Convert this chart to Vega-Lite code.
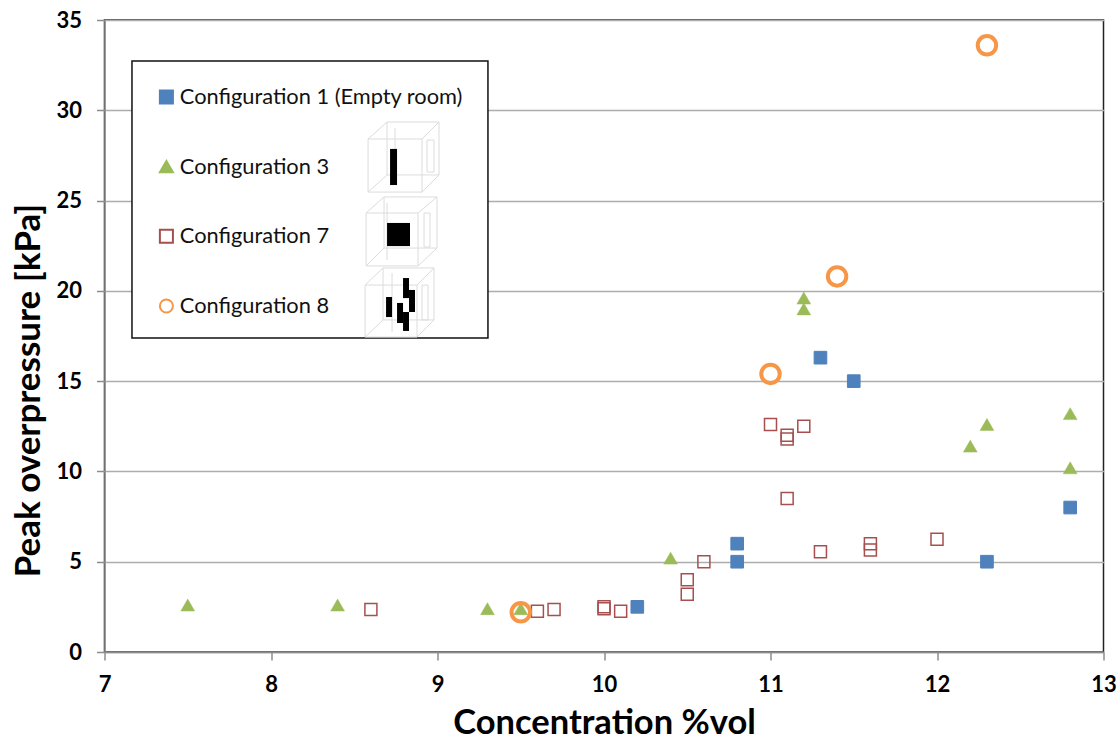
{
"$schema":"https://vega.github.io/schema/vega-lite/v6.json",
"width":999,"height":632,
"autosize":{"type":"none"},
"padding":{"left":104.5,"top":20,"right":16.5,"bottom":90},
"background":"white",
"config":{"view":{"stroke":"#222","strokeWidth":1.5},"font":"Lato"},
"datasets":{
"box":[{"c":7.165,"c2":9.303,"p":32.73,"p2":17.39}],
"rooms":[
{"c":8.583,"c2":8.907,"p":28.41,"p2":25.47},{"c":8.697,"c2":9.009,"p":29.35,"p2":26.42},{"c":8.937,"c2":8.979,"p":28.35,"p2":26.58},
{"c":8.571,"c2":8.883,"p":24.31,"p2":21.38},{"c":8.679,"c2":8.997,"p":25.20,"p2":22.37},{"c":8.919,"c2":8.955,"p":24.31,"p2":22.43},
{"c":8.565,"c2":8.877,"p":20.32,"p2":17.44},{"c":8.673,"c2":8.979,"p":21.27,"p2":18.39},{"c":8.907,"c2":8.943,"p":20.32,"p2":18.39}],
"wires":[
{"c":8.583,"c2":8.697,"p":28.41,"p2":29.35},{"c":8.907,"c2":9.009,"p":28.41,"p2":29.35},{"c":8.583,"c2":8.697,"p":25.47,"p2":26.42},{"c":8.907,"c2":9.009,"p":25.47,"p2":26.42},{"c":8.745,"c2":8.745,"p":29.02,"p2":26.53},
{"c":8.571,"c2":8.679,"p":24.31,"p2":25.20},{"c":8.883,"c2":8.997,"p":24.31,"p2":25.20},{"c":8.571,"c2":8.679,"p":21.38,"p2":22.37},{"c":8.883,"c2":8.997,"p":21.38,"p2":22.37},{"c":8.697,"c2":8.697,"p":24.87,"p2":21.71},
{"c":8.565,"c2":8.673,"p":20.32,"p2":21.27},{"c":8.877,"c2":8.979,"p":20.32,"p2":21.27},{"c":8.565,"c2":8.673,"p":17.44,"p2":18.39},{"c":8.877,"c2":8.979,"p":17.44,"p2":18.39},{"c":8.727,"c2":8.727,"p":20.99,"p2":17.72}],
"blocks":[
{"c":8.715,"c2":8.757,"p":27.86,"p2":25.86},
{"c":8.697,"c2":8.835,"p":23.76,"p2":22.48},
{"c":8.691,"c2":8.727,"p":19.66,"p2":18.55},
{"c":8.793,"c2":8.829,"p":20.71,"p2":19.60},
{"c":8.829,"c2":8.865,"p":20.05,"p2":18.83},
{"c":8.757,"c2":8.793,"p":19.33,"p2":18.22},
{"c":8.793,"c2":8.829,"p":18.83,"p2":17.78}],
"points":[
{"s":"Configuration 1 (Empty room)","c":10.2,"p":2.5},{"s":"Configuration 1 (Empty room)","c":10.8,"p":5},{"s":"Configuration 1 (Empty room)","c":10.8,"p":6},{"s":"Configuration 1 (Empty room)","c":11.3,"p":16.3},{"s":"Configuration 1 (Empty room)","c":11.5,"p":15},{"s":"Configuration 1 (Empty room)","c":12.3,"p":5},{"s":"Configuration 1 (Empty room)","c":12.8,"p":8},
{"s":"Configuration 3","c":7.5,"p":2.6},{"s":"Configuration 3","c":8.4,"p":2.6},{"s":"Configuration 3","c":9.3,"p":2.4},{"s":"Configuration 3","c":9.5,"p":2.4},{"s":"Configuration 3","c":10.4,"p":5.2},{"s":"Configuration 3","c":11.2,"p":19.6},{"s":"Configuration 3","c":11.2,"p":19},{"s":"Configuration 3","c":12.2,"p":11.4},{"s":"Configuration 3","c":12.3,"p":12.6},{"s":"Configuration 3","c":12.8,"p":13.2},{"s":"Configuration 3","c":12.8,"p":10.2},
{"s":"Configuration 7","c":8.6,"p":2.35},{"s":"Configuration 7","c":9.6,"p":2.25},{"s":"Configuration 7","c":9.7,"p":2.35},{"s":"Configuration 7","c":10,"p":2.4},{"s":"Configuration 7","c":10,"p":2.5},{"s":"Configuration 7","c":10.1,"p":2.25},{"s":"Configuration 7","c":10.5,"p":3.2},{"s":"Configuration 7","c":10.5,"p":4},{"s":"Configuration 7","c":10.6,"p":5},{"s":"Configuration 7","c":11,"p":12.6},{"s":"Configuration 7","c":11.1,"p":12},{"s":"Configuration 7","c":11.1,"p":11.8},{"s":"Configuration 7","c":11.2,"p":12.5},{"s":"Configuration 7","c":11.1,"p":8.5},{"s":"Configuration 7","c":11.3,"p":5.55},{"s":"Configuration 7","c":11.6,"p":5.65},{"s":"Configuration 7","c":11.6,"p":6},{"s":"Configuration 7","c":12,"p":6.25},
{"s":"Configuration 8","c":9.5,"p":2.2},{"s":"Configuration 8","c":11,"p":15.4},{"s":"Configuration 8","c":11.4,"p":20.8},{"s":"Configuration 8","c":12.3,"p":33.6}]
},
"encoding":{
"x":{"field":"c","type":"quantitative","scale":{"domain":[7,13],"nice":false,"zero":false},
"axis":{"title":"Concentration %vol","values":[7,8,9,10,11,12,13],"format":"d","grid":false,"labelFlush":false,"domainColor":"#8c8c8c","domainWidth":1.5,"tickColor":"#8c8c8c","tickWidth":1.5,"tickSize":8,"labelFont":"Lato","labelFontWeight":"bold","labelFontSize":22,"labelColor":"#000","labelPadding":14,"titleFont":"Lato","titleFontWeight":"bold","titleFontSize":34.5,"titleColor":"#000","titlePadding":11}},
"y":{"field":"p","type":"quantitative","scale":{"domain":[0,35],"nice":false},
"axis":{"title":"Peak overpressure [kPa]","values":[0,5,10,15,20,25,30,35],"grid":true,"labelFlush":false,"gridColor":"#adadad","gridWidth":1.5,"domainColor":"#8c8c8c","domainWidth":1.5,"tickColor":"#8c8c8c","tickWidth":1.5,"tickSize":8,"labelFont":"Lato","labelFontWeight":"bold","labelFontSize":22,"labelColor":"#000","labelPadding":15,"titleFont":"Lato","titleFontWeight":"bold","titleFontSize":35,"titleColor":"#000","titleX":-58,"titleY":370}}
},
"layer":[
{"data":{"name":"box"},"mark":{"type":"rect","fill":"white","stroke":"#111","strokeWidth":1.5},"encoding":{"x2":{"field":"c2"},"y2":{"field":"p2"}}},
{"data":{"name":"rooms"},"mark":{"type":"rect","fill":"transparent","stroke":"#dcdcdc","strokeWidth":1},"encoding":{"x2":{"field":"c2"},"y2":{"field":"p2"}}},
{"data":{"name":"wires"},"mark":{"type":"rule","stroke":"#dcdcdc","strokeWidth":1},"encoding":{"x2":{"field":"c2"},"y2":{"field":"p2"}}},
{"data":{"name":"blocks"},"mark":{"type":"rect","fill":"#000"},"encoding":{"x2":{"field":"c2"},"y2":{"field":"p2"}}},
{"data":{"name":"points"},"transform":[{"filter":"datum.s=='Configuration 1 (Empty room)'"}],"mark":{"type":"point","filled":true,"opacity":1,"size":160,"strokeWidth":1},
"encoding":{
"shape":{"field":"s","type":"nominal","scale":{"domain":["Configuration 1 (Empty room)","Configuration 3","Configuration 7","Configuration 8"],"range":["square","triangle-up","square","circle"]},
"legend":{"title":null,"orient":"none","legendX":27.5,"legendY":42.5,"zindex":1,"padding":23.5,"rowPadding":46.7,"symbolSize":170,"symbolStrokeWidth":2,"labelFont":"Lato","labelFontSize":21.8,"labelColor":"#111","labelLimit":400,"labelOffset":2.5}},
"fill":{"field":"s","type":"nominal","scale":{"domain":["Configuration 1 (Empty room)","Configuration 3","Configuration 7","Configuration 8"],"range":["#4f81bd","#9bbb59","transparent","transparent"]}},
"stroke":{"field":"s","type":"nominal","scale":{"domain":["Configuration 1 (Empty room)","Configuration 3","Configuration 7","Configuration 8"],"range":["#4f81bd","#9bbb59","#a5504f","#f79646"]}}
}},
{"data":{"name":"points"},"transform":[{"filter":"datum.s=='Configuration 3'"}],"mark":{"type":"point","filled":true,"opacity":1,"size":190,"strokeWidth":0.5},
"encoding":{"shape":{"field":"s","type":"nominal"},"fill":{"field":"s","type":"nominal"},"stroke":{"field":"s","type":"nominal"}}},
{"data":{"name":"points"},"transform":[{"filter":"datum.s=='Configuration 7'"}],"mark":{"type":"point","filled":true,"opacity":1,"size":144,"strokeWidth":1.5},
"encoding":{"shape":{"field":"s","type":"nominal"},"fill":{"field":"s","type":"nominal"},"stroke":{"field":"s","type":"nominal"}}},
{"data":{"name":"points"},"transform":[{"filter":"datum.s=='Configuration 8'"}],"mark":{"type":"point","filled":true,"opacity":1,"size":340,"strokeWidth":4},
"encoding":{"shape":{"field":"s","type":"nominal"},"fill":{"field":"s","type":"nominal"},"stroke":{"field":"s","type":"nominal"}}}
]
}
